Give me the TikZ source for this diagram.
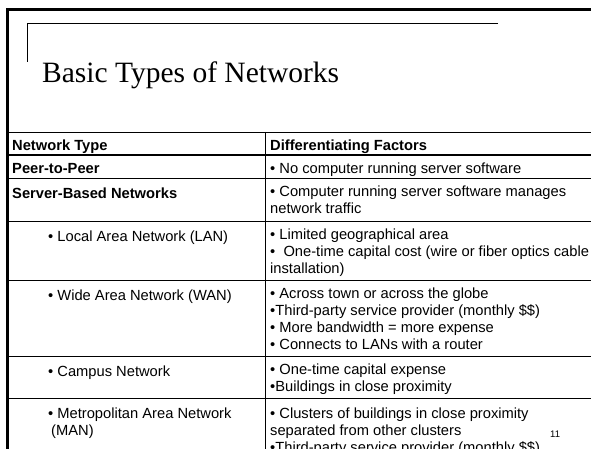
\documentclass[tikz,border=0pt]{standalone}
\usepackage{fontspec}
\setmainfont{Liberation Sans}
\newfontfamily\titlefont{Liberation Serif}
\tikzset{
  cell/.style={anchor=north west, inner sep=0pt, align=left, font=\fontsize{14.7}{17}\selectfont, execute at begin node=\strut},
  headcell/.style={cell, font=\fontsize{14.7}{17}\selectfont\bfseries},
  tablerule/.style={line width=0.3mm},
}
\begin{document}
\begin{tikzpicture}[x=1pt, y=-1pt]
			%%%%% START %%%%%
			
			\useasboundingbox (0, 0) rectangle (591, 449);
			\clip (0, 0) rectangle (591, 449);
			\fill[white] (0, 0) rectangle (591, 449);
			
			\draw[line width=1mm] (600, 9.5) -- (7.5, 9.5) -- (7.5, 460);
			\draw[line width=0.3mm] (498, 23.5) -- (27, 23.5) -- (27, 62);
			
			\node[anchor=base west, inner sep=0pt, font=\fontsize{29.5}{30}\titlefont] (title) at (42, 83) {Basic Types of Networks};
			
			\draw[tablerule] (7.5, 132) -- (600, 132);
			\draw[line width=0.9mm] (7.5, 155) -- (600, 155);
			\foreach \y in {178, 221, 280, 356, 398}
				\draw[tablerule] (7.5, \y) -- (600, \y);
			\draw[tablerule] (265, 132) -- (265, 460);
			
			\node[headcell] (typehead) at (12, 138) {Network Type};
			\node[headcell] (factorhead) at (270, 138) {Differentiating Factors};
			
			\node[headcell] (typepeer) at (12, 161) {Peer-to-Peer};
			\node[cell] (factorpeer) at (270, 161) {• No computer running server software};
			
			\node[headcell] (typeserver) at (12, 186) {Server-Based Networks};
			\node[cell] (factorserver) at (270, 186) {• Computer running server software manages\\network traffic};
			
			\node[cell] (typelan) at (48, 229) {• Local Area Network (LAN)};
			\node[cell] (factorlan) at (270, 229) {• Limited geographical area\\•\ \ One-time capital cost (wire or fiber optics cable\\installation)};
			
			\node[cell] (typewan) at (48, 288) {• Wide Area Network (WAN)};
			\node[cell] (factorwan) at (270, 288) {• Across town or across the globe\\•Third-party service provider (monthly \$\$)\\• More bandwidth = more expense\\• Connects to LANs with a router};
			
			\node[cell] (typecampus) at (48, 364) {• Campus Network};
			\node[cell] (factorcampus) at (270, 364) {• One-time capital expense\\•Buildings in close proximity};
			
			\node[cell] (typeman) at (48, 408) {• Metropolitan Area Network\\\hspace*{3pt}(MAN)};
			\node[cell] (factorman) at (270, 408) {• Clusters of buildings in close proximity\\separated from other clusters\\•Third-party service provider (monthly \$\$)};
			
			\node[anchor=base west, inner sep=0pt, font=\fontsize{9.5}{10}\selectfont] (slidenum) at (550, 437) {11};
			
			%%%%% END %%%%%
\end{tikzpicture}
\end{document}
